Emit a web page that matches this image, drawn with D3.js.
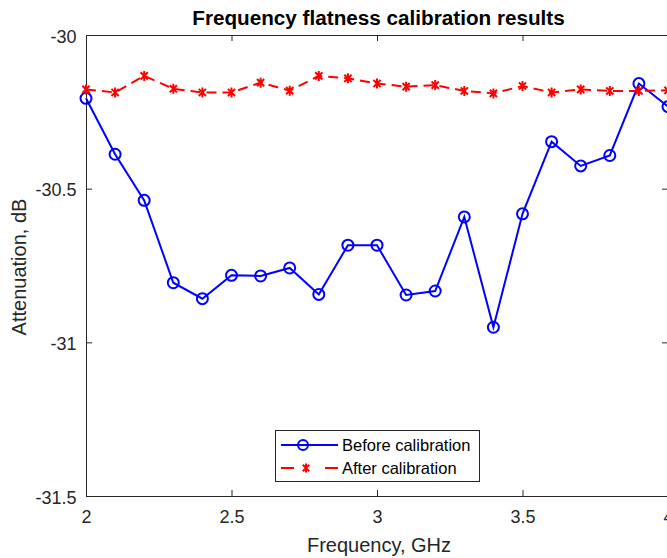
<!DOCTYPE html>
<html>
<head>
<meta charset="utf-8">
<script src="https://cdn.jsdelivr.net/npm/d3@7"></script>
<style>
  html, body { margin: 0; padding: 0; background: #fff; }
  svg { display: block; font-family: "Liberation Sans", Arial, Helvetica, sans-serif; }
</style>
</head>
<body>
<svg id="chart" width="667" height="558"></svg>
<script>
// Frequency points, GHz
const freq = [2.0, 2.1, 2.2, 2.3, 2.4, 2.5, 2.6, 2.7, 2.8, 2.9, 3.0,
              3.1, 3.2, 3.3, 3.4, 3.5, 3.6, 3.7, 3.8, 3.9, 4.0];
// Measured attenuation before calibration, dB
const before = [-30.206, -30.388, -30.538, -30.806, -30.858, -30.782, -30.784, -30.758, -30.844, -30.684, -30.684,
                -30.846, -30.833, -30.592, -30.951, -30.582, -30.347, -30.426, -30.392, -30.158, -30.233];
// Measured attenuation after calibration, dB
const after = [-30.177, -30.187, -30.133, -30.175, -30.187, -30.187, -30.155, -30.181, -30.133, -30.141, -30.158,
               -30.168, -30.163, -30.182, -30.190, -30.166, -30.187, -30.177, -30.182, -30.182, -30.180];
const xTicks = [2, 2.5, 3, 3.5, 4];
const yTicks = [-30, -30.5, -31, -31.5];
const seriesNames = ["Before calibration", "After calibration"];

const svg = d3.select("#chart");
const plotLeft = 86, plotRight = 668, plotTop = 35, plotBottom = 496;
const axisColor = "#262626";
const fmt = d => String(d); // plain hyphen-minus

const x = d3.scaleLinear().domain([2, 4]).range([plotLeft, plotRight]);
const y = d3.scaleLinear().domain([-31.5, -30]).range([plotBottom, plotTop]);

// Axes with inward ticks, box style
const tickLen = 6;
const gx = svg.append("g").attr("transform", `translate(0,${plotBottom})`)
  .call(d3.axisBottom(x).tickValues(xTicks).tickSizeInner(-tickLen).tickSizeOuter(0).tickPadding(14).tickFormat(fmt));
const gxTop = svg.append("g").attr("transform", `translate(0,${plotTop})`)
  .call(d3.axisTop(x).tickValues(xTicks).tickSizeInner(-tickLen).tickSizeOuter(0).tickFormat(""));
const gy = svg.append("g").attr("transform", `translate(${plotLeft},0)`)
  .call(d3.axisLeft(y).tickValues(yTicks).tickSizeInner(-tickLen).tickSizeOuter(0).tickPadding(9.5).tickFormat(fmt));
const gyRight = svg.append("g").attr("transform", `translate(${plotRight},0)`)
  .call(d3.axisRight(y).tickValues(yTicks).tickSizeInner(-tickLen).tickSizeOuter(0).tickFormat(""));

[gx, gxTop, gy, gyRight].forEach(g => {
  g.select(".domain").attr("stroke", axisColor).attr("stroke-width", 1);
  g.selectAll(".tick line").attr("stroke", axisColor).attr("stroke-width", 1);
  g.selectAll(".tick text").attr("fill", axisColor).style("font-size", "18px")
    .style("font-family", "'Liberation Sans', Arial, sans-serif");
});
gx.selectAll(".tick text").attr("dy", "0.71em");
gy.selectAll(".tick text").attr("dy", "0.4em");

// Plot area clip
svg.append("clipPath").attr("id", "plotClip")
  .append("rect").attr("x", plotLeft - 8).attr("y", plotTop - 8)
  .attr("width", plotRight - plotLeft + 16).attr("height", plotBottom - plotTop + 16);

const plot = svg.append("g").attr("clip-path", "url(#plotClip)");

const line = d3.line().x(d => x(d[0])).y(d => y(d[1]));
const beforePts = freq.map((f, i) => [f, before[i]]);
const afterPts = freq.map((f, i) => [f, after[i]]);

// Before calibration: solid blue with circles
plot.append("path").datum(beforePts).attr("d", line)
  .attr("fill", "none").attr("stroke", "#0000ff").attr("stroke-width", 2);
plot.selectAll("circle.before").data(beforePts).enter().append("circle")
  .attr("class", "before")
  .attr("cx", d => x(d[0])).attr("cy", d => y(d[1])).attr("r", 5.5)
  .attr("fill", "none").attr("stroke", "#0000ff").attr("stroke-width", 2);

// After calibration: dashed red with asterisks
const asterisk = (g, cx, cy, s) => {
  const d = s * 0.72;
  g.append("path")
    .attr("d", `M${cx - d},${cy - d}L${cx + d},${cy + d}M${cx - d},${cy + d}L${cx + d},${cy - d}M${cx},${cy - s}L${cx},${cy + s}`)
    .attr("stroke", "#ff0000").attr("stroke-width", 2).attr("fill", "none");
};
plot.append("path").datum(afterPts).attr("d", line)
  .attr("fill", "none").attr("stroke", "#ff0000").attr("stroke-width", 2)
  .attr("stroke-dasharray", "10,6");
afterPts.forEach(d => asterisk(plot, x(d[0]), y(d[1]), 5));

// Title
svg.append("text").attr("x", 378.5).attr("y", 25).attr("text-anchor", "middle")
  .style("font-size", "20.7px").style("font-weight", "bold").attr("fill", "#000")
  .text("Frequency flatness calibration results");

// Axis labels
svg.append("text").attr("x", 379).attr("y", 552).attr("text-anchor", "middle")
  .style("font-size", "20px").attr("fill", axisColor).text("Frequency, GHz");
svg.append("text").attr("transform", "translate(26,267) rotate(-90)").attr("text-anchor", "middle")
  .style("font-size", "20px").attr("fill", axisColor).text("Attenuation, dB");

// Legend
const lg = svg.append("g");
lg.append("rect").attr("x", 275.5).attr("y", 430.5).attr("width", 204).attr("height", 51)
  .attr("fill", "#fff").attr("stroke", axisColor).attr("stroke-width", 1);
const rows = [445, 468];
// Before entry
lg.append("line").attr("x1", 281).attr("x2", 338).attr("y1", rows[0]).attr("y2", rows[0])
  .attr("stroke", "#0000ff").attr("stroke-width", 2);
lg.append("circle").attr("cx", 303).attr("cy", rows[0]).attr("r", 5)
  .attr("fill", "none").attr("stroke", "#0000ff").attr("stroke-width", 2);
// After entry
[[281, 294], [325, 338]].forEach(([a, b]) => {
  lg.append("line").attr("x1", a).attr("x2", b).attr("y1", rows[1]).attr("y2", rows[1])
    .attr("stroke", "#ff0000").attr("stroke-width", 2);
});
asterisk(lg, 306, rows[1], 4.5);
seriesNames.forEach((name, i) => {
  lg.append("text").attr("x", 342).attr("y", rows[i]).attr("dy", "0.35em")
    .style("font-size", "16.5px").attr("fill", "#000").text(name);
});
</script>
</body>
</html>
